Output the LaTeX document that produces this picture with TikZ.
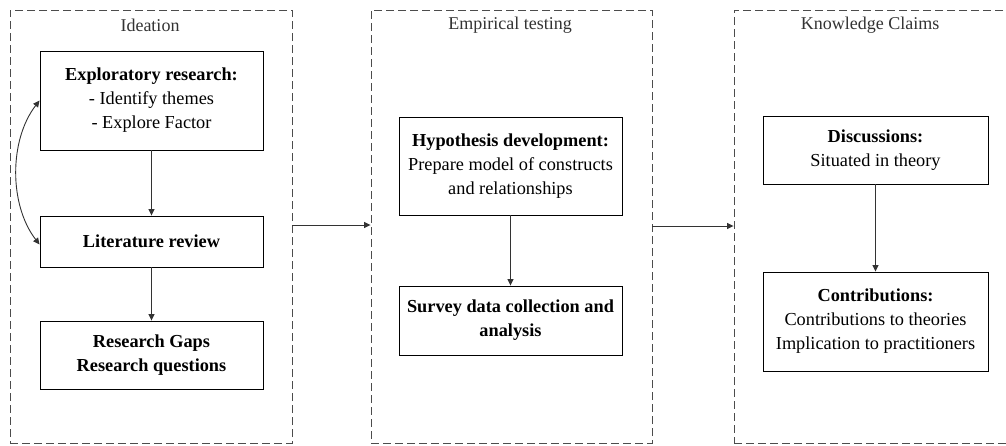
\documentclass[tikz,border=0pt]{standalone}
\usepackage{fontspec}
\setmainfont{Liberation Serif}
\usetikzlibrary{arrows.meta}
\begin{document}
\begin{tikzpicture}[x=1pt,y=-1pt,
  panel/.style={draw=black!70, dashed, dash pattern=on 8pt off 4pt, line width=0.9pt, inner sep=0pt},
  ptitle/.style={text=black!80, font=\fontsize{18}{22}\selectfont},
  box/.style={draw=black, line width=0.9pt, align=center, inner sep=2pt, font=\fontsize{18.3}{24}\selectfont},
  conn/.style={draw=black!80, line width=0.9pt, -{Triangle[length=6.5pt,width=6pt]}},
  bconn/.style={draw=black!80, line width=0.9pt, {Triangle[length=6.5pt,width=6pt]}-{Triangle[length=6.5pt,width=6pt]}}
]
\clip (0,0) rectangle (1006,445);
\fill[white] (0,0) rectangle (1006,445);
% panels
\node[panel, minimum width=282pt, minimum height=433pt] (p1) at (151,226.5) {};
\node[panel, minimum width=281pt, minimum height=433pt] (p2) at (511.5,226.5) {};
\node[panel, minimum width=278pt, minimum height=433pt] (p3) at (873,226.5) {};
\node[ptitle] (t1) at (150,25) {Ideation};
\node[ptitle] (t2) at (510,25) {Empirical testing};
\node[ptitle] (t3) at (870,25) {Knowledge Claims};
% column 1
\node[box, minimum width=223pt, minimum height=99pt] (e1) at (151.5,100.5) {\textbf{Exploratory research:}\\- Identify themes\\- Explore Factor};
\node[box, minimum width=223pt, minimum height=51pt] (e2) at (151.5,241.5) {\textbf{Literature review}};
\node[box, minimum width=223pt, minimum height=68pt] (e3) at (151.5,355) {\textbf{Research Gaps}\\\textbf{Research questions}};
% column 2
\node[box, minimum width=223pt, minimum height=98pt] (h1) at (510.5,166) {\textbf{Hypothesis development:}\\Prepare model of constructs\\and relationships};
\node[box, minimum width=223pt, minimum height=69pt] (h2) at (510.5,320.5) {\textbf{Survey data collection and}\\\textbf{analysis}};
% column 3
\node[box, minimum width=225pt, minimum height=68pt] (d1) at (875.5,150) {\textbf{Discussions:}\\Situated in theory};
\node[box, minimum width=225pt, minimum height=99pt] (d2) at (875.5,321.5) {\textbf{Contributions:}\\Contributions to theories\\Implication to practitioners};
% connectors
\draw[conn] (e1) -- (e2);
\draw[conn] (e2) -- (e3);
\draw[conn] (h1) -- (h2);
\draw[conn] (d1) -- (d2);
\draw[conn] ([yshift=1.5pt]p1.east) -- ([yshift=1.5pt]p2.west);
\draw[conn] ([yshift=0.5pt]p2.east) -- ([yshift=0.5pt]p3.west);
\draw[bconn] (e1.west) .. controls (9,140) and (9,205) .. ([yshift=-3pt]e2.west);
\end{tikzpicture}
\end{document}
